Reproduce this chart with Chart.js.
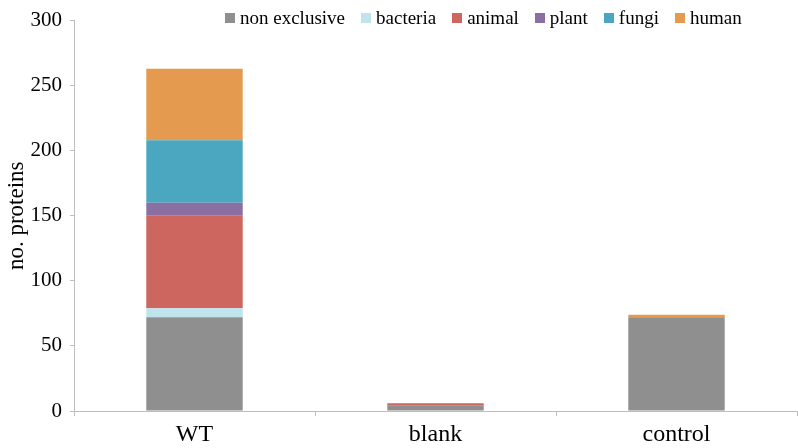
<!DOCTYPE html>
<html>
<head>
<meta charset="utf-8">
<script src="https://cdn.jsdelivr.net/npm/chart.js@4.4.0/dist/chart.umd.min.js"></script>
<style>
    html, body { margin: 0; padding: 0; background: #fff; }
    #wrap { position: relative; width: 798px; height: 448px; }
    #legend {
        position: absolute; left: 225px; top: 7px;
        display: flex; align-items: center;
        font-family: 'Liberation Serif', 'Times New Roman', serif;
        font-size: 19px; color: #000; line-height: 22px;
    }
    .item { display: flex; align-items: center; margin-right: 16px; }
    .box { width: 10px; height: 10px; margin-right: 5px; }
</style>
</head>
<body>
<div id="wrap">
    <canvas id="chart"></canvas>
    <div id="legend"></div>
</div>
<script>
// Data
const categories = ['WT', 'blank', 'control'];
const nonExclusive = [72, 4, 72];
const bacteria = [7, 0, 0];
const animal = [71, 2, 0];
const plant = [10, 0, 0];
const fungi = [48, 0, 0];
const human = [55, 0, 2];
const yTicks = [0, 50, 100, 150, 200, 250, 300];

const serif = "'Liberation Serif', 'Times New Roman', serif";
const axisColor = '#bdbdbd';

function series(label, data, color) {
    return {
        label: label,
        data: data,
        backgroundColor: color,
        borderWidth: 0,
        categoryPercentage: 0.8,
        barPercentage: 0.5
    };
}

// Legend drawn as html over the top of the plot
function buildLegend(chart) {
    const legendDiv = document.getElementById('legend');
    let html = '';
    chart.data.datasets.forEach(ds => {
        html += `<span class="item"><span class="box" style="background:${ds.backgroundColor}"></span>${ds.label}</span>`;
    });
    legendDiv.innerHTML = html;
}

document.addEventListener('DOMContentLoaded', function() {
    const ctx = document.getElementById('chart').getContext('2d');

    const chart = new Chart(ctx, {
        type: 'bar',
        data: {
            labels: categories,
            datasets: [
                series('non exclusive', nonExclusive, '#8f8f8f'),
                series('bacteria', bacteria, '#bfe4ec'),
                series('animal', animal, '#cd665f'),
                series('plant', plant, '#8a6fa3'),
                series('fungi', fungi, '#4ba7bf'),
                series('human', human, '#e49a4f')
            ]
        },
        options: {
            responsive: true,
            maintainAspectRatio: false,
            animation: false,
            layout: { padding: { top: 10, right: 1, left: 0, bottom: 0 } },
            plugins: {
                legend: { display: false },
                tooltip: { enabled: false }
            },
            scales: {
                x: {
                    stacked: true,
                    grid: {
                        drawOnChartArea: false,
                        tickLength: 5,
                        color: axisColor
                    },
                    border: { color: axisColor },
                    ticks: {
                        color: '#000',
                        padding: 4,
                        font: { family: serif, size: 24 }
                    },
                    afterFit: function(scale) { scale.height = 37; }
                },
                y: {
                    stacked: true,
                    min: 0,
                    max: 300,
                    afterBuildTicks: function(scale) {
                        scale.ticks = yTicks.map(v => ({ value: v }));
                    },
                    grid: {
                        drawOnChartArea: false,
                        tickLength: 4,
                        color: axisColor
                    },
                    border: { color: axisColor },
                    ticks: {
                        color: '#000',
                        padding: 8,
                        font: { family: serif, size: 21 }
                    },
                    title: {
                        display: true,
                        text: 'no. proteins',
                        color: '#000',
                        padding: { top: 3, bottom: 0 },
                        font: { family: serif, size: 23 }
                    },
                    afterFit: function(scale) { scale.width = 74; }
                }
            }
        }
    });

    buildLegend(chart);
});
</script>
</body>
</html>
